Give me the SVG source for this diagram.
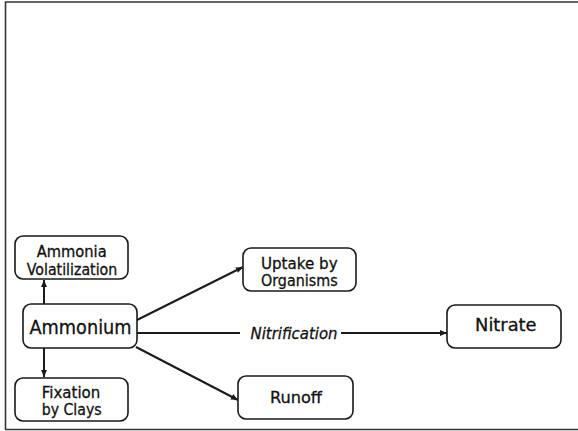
<svg xmlns="http://www.w3.org/2000/svg" width="578" height="431" viewBox="0 0 578 431">
<style>
.box{fill:#fff;stroke:#1a1a1a;stroke-width:1.6}
.t{font-family:"DejaVu Sans",Verdana,sans-serif;fill:#111;stroke:#111;stroke-width:0.3;text-anchor:middle}
.s{font-size:15px}
.c{stroke:#1a1a1a;stroke-width:2;fill:none}
</style>
<defs>
<marker id="ah" markerWidth="8" markerHeight="8" refX="7" refY="4" orient="auto" markerUnits="userSpaceOnUse">
<path d="M0,1 L7,4 L0,7 Z" fill="#1a1a1a"/>
</marker>
</defs>
<rect width="578" height="431" fill="#fff"/>
<path d="M5.5,430 V2 H578 M5.5,429.5 H578" fill="none" stroke="#333" stroke-width="1.6"/>
<g id="connectors">
<line class="c" x1="44" y1="304" x2="44" y2="280" marker-end="url(#ah)"/>
<line class="c" x1="44" y1="348" x2="44" y2="377" marker-end="url(#ah)"/>
<line class="c" x1="137" y1="320" x2="243" y2="267" marker-end="url(#ah)"/>
<line class="c" x1="136" y1="347" x2="238" y2="400" marker-end="url(#ah)"/>
<line class="c" x1="137" y1="333" x2="240" y2="333"/>
<line class="c" x1="341" y1="333" x2="447" y2="333" marker-end="url(#ah)"/>
<text class="t" x="294" y="339" style="font-size:16px;font-style:italic" textLength="87" lengthAdjust="spacingAndGlyphs">Nitrification</text>
</g>
<g id="volatilization">
<rect class="box" x="15" y="236" width="113" height="43" rx="8"/>
<text class="t s" x="71.7" y="257.2" textLength="70" lengthAdjust="spacingAndGlyphs">Ammonia</text>
<text class="t s" x="72" y="274.7" textLength="90.5" lengthAdjust="spacingAndGlyphs">Volatilization</text>
</g>
<g id="ammonium">
<rect class="box" x="23" y="304" width="114" height="44" rx="8"/>
<text class="t" x="80.5" y="334" style="font-size:18.8px" textLength="102" lengthAdjust="spacingAndGlyphs">Ammonium</text>
</g>
<g id="fixation">
<rect class="box" x="15" y="378" width="113" height="43" rx="8"/>
<text class="t s" x="71" y="397.5" textLength="58.5" lengthAdjust="spacingAndGlyphs">Fixation</text>
<text class="t s" x="71.7" y="415" textLength="60" lengthAdjust="spacingAndGlyphs">by Clays</text>
</g>
<g id="uptake">
<rect class="box" x="243" y="248" width="113" height="43" rx="8"/>
<text class="t s" x="299.3" y="268.5" textLength="76.7" lengthAdjust="spacingAndGlyphs">Uptake by</text>
<text class="t s" x="299.3" y="286" textLength="76.7" lengthAdjust="spacingAndGlyphs">Organisms</text>
</g>
<g id="nitrate">
<rect class="box" x="447" y="305" width="114" height="43" rx="8"/>
<text class="t" x="505.8" y="331" style="font-size:17.4px" textLength="61.5" lengthAdjust="spacingAndGlyphs">Nitrate</text>
</g>
<g id="runoff">
<rect class="box" x="238" y="376" width="115" height="43" rx="8"/>
<text class="t" x="296" y="403" style="font-size:16px" textLength="52" lengthAdjust="spacingAndGlyphs">Runoff</text>
</g>
</svg>
